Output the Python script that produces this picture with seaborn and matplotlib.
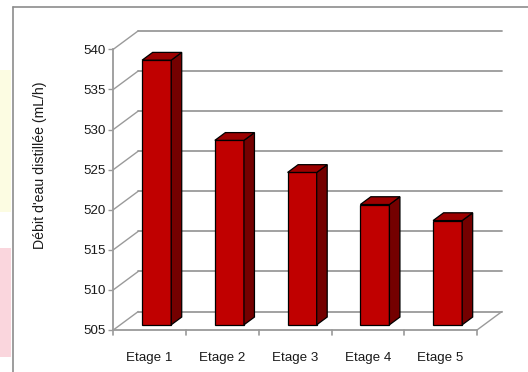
import matplotlib
matplotlib.use("Agg")
import matplotlib.pyplot as plt
from matplotlib.patches import Polygon, Rectangle
from matplotlib.lines import Line2D
import seaborn as sns
import pandas as pd

categories = ["Etage 1", "Etage 2", "Etage 3", "Etage 4", "Etage 5"]
values = [538, 528, 524, 520, 518]
y_ticks = [505, 510, 515, 520, 525, 530, 535, 540]
y_label = "Débit d'eau distillée (mL/h)"

sns.set_style("white")
plt.rcParams["font.family"] = ["Liberation Sans", "DejaVu Sans"]

W, H = 528, 372
fig = plt.figure(figsize=(W / 100, H / 100), dpi=100)

# pixel geometry of the plotting box
px_left, px_front_right, px_bottom, px_top540 = 113.3, 477.0, 330.0, 49.3
ppc = (px_front_right - px_left) / 5.0           # pixels per category
ppu = (px_bottom - px_top540) / 35.0             # pixels per unit
DXp, DYp = 25.0, 18.5                            # depth offset in pixels
DX, DY = DXp / ppc, DYp / ppu                    # depth offset in data units
BASE, TOP = 505, 540
xmin, xmax = -0.5, 4.5 + DX
ymin, ymax = BASE, TOP + DY

ax_w = (xmax - xmin) * ppc
ax_h = (ymax - ymin) * ppu
ax = fig.add_axes([px_left / W, (H - px_bottom) / H, ax_w / W, ax_h / H])

df = pd.DataFrame({"cat": categories, "val": values})
sns.barplot(data=df, x="cat", y="val", width=0.4, color="#C00000", saturation=1,
            edgecolor="black", linewidth=0.9, ax=ax, zorder=3)
ax.set_xlim(xmin, xmax)
ax.set_ylim(ymin, ymax)

grid_c = "#9a9a9a"
# back wall gridlines and left wall diagonals
for v in y_ticks:
    ax.add_line(Line2D([xmin + DX, xmax], [v + DY, v + DY], color=grid_c, lw=1.3, clip_on=False, zorder=1))
    ax.add_line(Line2D([xmin, xmin + DX], [v, v + DY], color=grid_c, lw=1.0, clip_on=False, zorder=1))
# floor
ax.add_line(Line2D([xmin, 4.5], [BASE, BASE], color=grid_c, lw=1.3, clip_on=False, zorder=1))
ax.add_line(Line2D([4.5, 4.5 + DX], [BASE, BASE + DY], color=grid_c, lw=1.0, clip_on=False, zorder=1))
# category boundary ticks
for b in range(6):
    xb = b - 0.5
    ax.add_line(Line2D([xb, xb], [BASE, BASE - 5 / ppu], color=grid_c, lw=1.2, clip_on=False, zorder=1))

f0, f1 = 0.28, 0.70
sx0, sy0 = f0 * DX, f0 * DY
ddx, ddy = (f1 - f0) * DX, (f1 - f0) * DY
for p in list(ax.patches):
    x, w, h = p.get_x(), p.get_width(), p.get_height()
    p.set_x(x + sx0)
    p.set_y(BASE + sy0)
    p.set_height(h - BASE)
    p.set_clip_on(False)
    x0 = x + sx0
    x1 = x0 + w
    yb = BASE + sy0
    yt = h + sy0
    side = Polygon([(x1, yb), (x1 + ddx, yb + ddy), (x1 + ddx, yt + ddy), (x1, yt)],
                   closed=True, facecolor="#740000", edgecolor="black", lw=0.9, zorder=3, clip_on=False)
    top = Polygon([(x0, yt), (x1, yt), (x1 + ddx, yt + ddy), (x0 + ddx, yt + ddy)],
                  closed=True, facecolor="#9C0000", edgecolor="black", lw=0.9, zorder=3, clip_on=False)
    ax.add_patch(side)
    ax.add_patch(top)

for s in ["top", "right", "bottom"]:
    ax.spines[s].set_visible(False)
ax.spines["left"].set_color(grid_c)
ax.spines["left"].set_linewidth(1.3)
ax.spines["left"].set_bounds(BASE, TOP)

ax.set_yticks(y_ticks)
ax.set_yticklabels([str(t) for t in y_ticks])
ax.tick_params(axis="y", left=True, length=3.6, width=1.0, color=grid_c, pad=1.8,
               labelsize=9.6, labelcolor="#1a1a1a")
ax.tick_params(axis="x", bottom=False, length=0, pad=15.5, labelsize=9.6, labelcolor="#1a1a1a")
ax.set_xlabel("")
ax.set_ylabel("")

fig.text(40 / W, 1 - 165 / H, y_label, rotation=90, ha="center", va="center",
         fontsize=10.2, color="#1a1a1a")

# slide background decorations and chart frame
fig.patches.append(Rectangle((0, 1 - 212 / H), 11 / W, 142 / H, transform=fig.transFigure,
                             facecolor="#FCFCE2", edgecolor="none", zorder=0))
fig.patches.append(Rectangle((0, 1 - 357 / H), 11 / W, 109 / H, transform=fig.transFigure,
                             facecolor="#FAD6DD", edgecolor="none", zorder=0))
fig.add_artist(Line2D([12.5 / W, 12.5 / W], [0, 1 - 6.5 / H], transform=fig.transFigure,
                      color="#8c8c8c", lw=1.2))
fig.add_artist(Line2D([12.5 / W, 1], [1 - 6.5 / H, 1 - 6.5 / H], transform=fig.transFigure,
                      color="#8c8c8c", lw=1.2))

fig.savefig("out.png", dpi=100)
